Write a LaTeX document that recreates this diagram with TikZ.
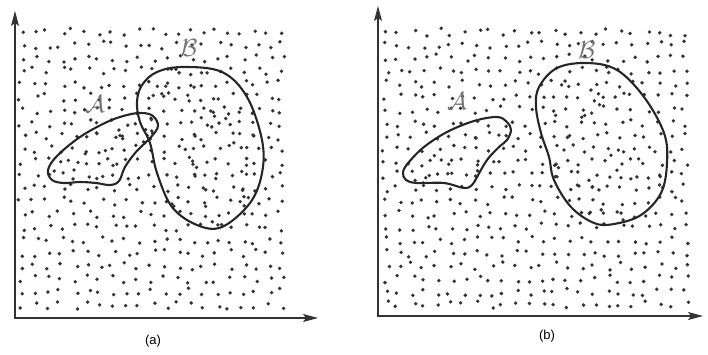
\documentclass[tikz,border=0pt]{standalone}
\usepackage{fontspec}
\setsansfont{Liberation Sans}
\usetikzlibrary{arrows.meta}
\begin{document}
\begin{tikzpicture}[x=1pt,y=-1pt,
  axis/.style={line width=1.1pt,black!80,{Stealth[length=15pt,width=8pt,inset=3pt]}-{Stealth[length=15pt,width=8pt,inset=3pt]}},
  region/.style={line width=2.1pt,black!85},
  dotmark/.style={fill=black!80},
  setlabel/.style={text=black!55,font=\fontsize{23}{23}\selectfont,inner sep=0pt},
  caption/.style={font=\sffamily\fontsize{13}{15}\selectfont,inner sep=0pt}]
\useasboundingbox (0,0) rectangle (708,354);
\pgfmathsetseed{4242}
\def\shapeAa{plot[smooth cycle,tension=0.6] coordinates {(48,170) (57,156) (80,137) (107,122) (127,115) (142,113) (153,116) (158,126) (151,137) (136,152) (125,167) (119,181) (110,185) (96,183) (80,182) (64,183) (52,180)}}
\def\shapeBa{plot[smooth cycle,tension=0.6] coordinates {(183,67) (222,72) (247,97) (262,140) (262,173) (250,203) (222,227) (197,225) (172,207) (157,173) (150,143) (140,122) (137,102) (142,85) (157,72)}}
\def\shapeAb{plot[smooth cycle,tension=0.6] coordinates {(474,121) (497,117) (507,122) (511,130) (507,140) (499,147) (487,160) (477,177) (472,185) (464,188) (444,183) (417,183) (406,180) (403,172) (409,162) (424,147) (447,132)}}
\def\shapeBb{plot[smooth cycle,tension=0.6] coordinates {(587,63) (617,70) (644,97) (664,133) (667,163) (661,193) (641,215) (614,224) (594,223) (571,207) (554,180) (549,157) (541,133) (536,107) (539,87) (557,68)}}
% background dots, panel (a)
\foreach \gx in {0,...,20}
  \foreach \gy in {0,...,21}
    \fill[dotmark] ({22+\gx*13+4*rand},{32+\gy*13+4*rand}) circle (1.9);
% background dots, panel (b)
\foreach \gx in {0,...,23}
  \foreach \gy in {0,...,21}
    \fill[dotmark] ({386+\gx*13+4*rand},{32+\gy*13+4*rand}) circle (1.9);
% denser dots inside regions
\begin{scope}
  \clip \shapeBa;
  \foreach \i in {1,...,55} \fill[dotmark] ({137+125*rnd},{67+160*rnd}) circle (1.9);
\end{scope}
\begin{scope}
  \clip \shapeAa;
  \foreach \i in {1,...,25} \fill[dotmark] ({48+110*rnd},{113+72*rnd}) circle (1.9);
\end{scope}
\begin{scope}
  \clip \shapeBb;
  \foreach \i in {1,...,35} \fill[dotmark] ({536+131*rnd},{63+161*rnd}) circle (1.9);
\end{scope}
\begin{scope}
  \clip \shapeAb;
  \foreach \i in {1,...,15} \fill[dotmark] ({403+108*rnd},{117+71*rnd}) circle (1.9);
\end{scope}
% region outlines
\draw[region] \shapeAa;
\draw[region] \shapeBa;
\draw[region] \shapeAb;
\draw[region] \shapeBb;
% axes
\coordinate (ya) at (15,11);
\coordinate (oa) at (15,318);
\coordinate (xa) at (318,318);
\coordinate (yb) at (378,6);
\coordinate (ob) at (378,316);
\coordinate (xb) at (703,316);
\draw[axis] (ya) -- (oa) -- (xa);
\draw[axis] (yb) -- (ob) -- (xb);
% labels
\node[setlabel] (la) at (95,104) {$\mathcal{A}$};
\node[setlabel] (lb) at (189,48) {$\mathcal{B}$};
\node[setlabel] (lab) at (457,101) {$\mathcal{A}$};
\node[setlabel] (lbb) at (587,50) {$\mathcal{B}$};
\node[caption] (capa) at (153,341) {(a)};
\node[caption] (capb) at (547,336) {(b)};
\end{tikzpicture}
\end{document}
